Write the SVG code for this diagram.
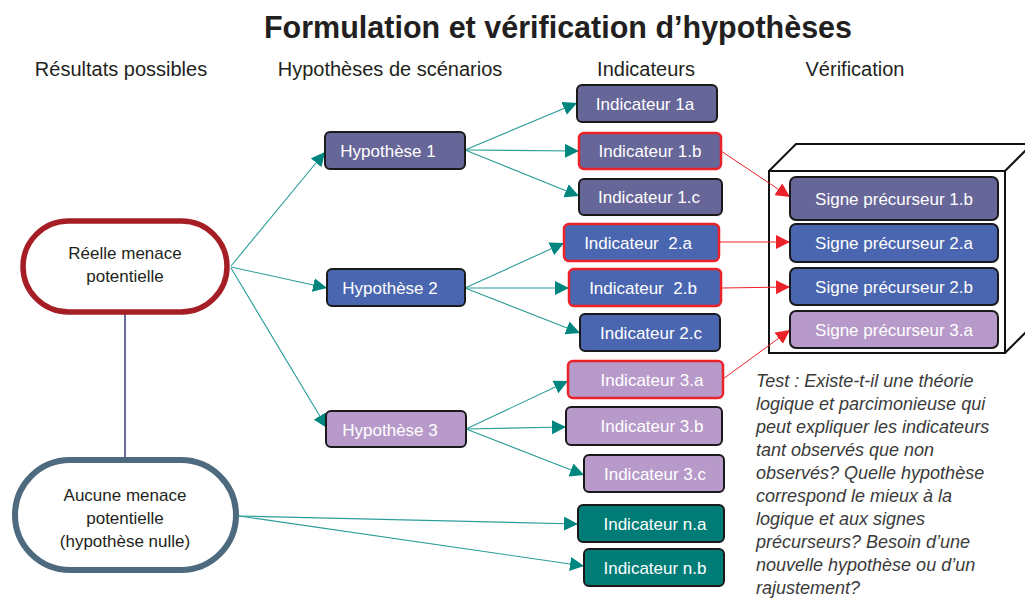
<svg xmlns="http://www.w3.org/2000/svg" width="1025" height="601" viewBox="0 0 1025 601">
<defs>
<marker id="ta" markerUnits="userSpaceOnUse" markerWidth="15" markerHeight="14" refX="14" refY="7" orient="auto"><path d="M0,0 L14,7 L0,14 z" fill="#00857f"/></marker>
<marker id="ra" markerUnits="userSpaceOnUse" markerWidth="15" markerHeight="14" refX="14" refY="7" orient="auto"><path d="M0,0 L14,7 L0,14 z" fill="#ec2229"/></marker>
<style>
text{font-family:"Liberation Sans",Arial,sans-serif}
.title{font-size:30.5px;font-weight:bold;fill:#231f20}
.hdr{font-size:20px;fill:#231f20}
.nt{font-size:17px;fill:#231f20;text-anchor:middle}
.bt{font-size:17px;fill:#ffffff;text-anchor:middle}
.box{stroke:#1a1a1a;stroke-width:2}
.red{stroke:#ec2229;stroke-width:2.5}
.p1{fill:#676698}.p2{fill:#4a66b0}.p3{fill:#b79ac9}.pn{fill:#007c77}
.tl{stroke:#2a9d99;stroke-width:1.1;fill:none;marker-end:url(#ta)}
.rl{stroke:#ec2229;stroke-width:1;fill:none;marker-end:url(#ra)}
.test{font-size:18px;font-style:italic;fill:#3a3a3a}
</style>
</defs>
<rect width="1025" height="601" fill="#ffffff"/>
<text class="title" x="558" y="38" text-anchor="middle">Formulation et vérification d’hypothèses</text>
<g id="headers">
<text class="hdr" x="121" y="76" text-anchor="middle">Résultats possibles</text>
<text class="hdr" x="390" y="76" text-anchor="middle">Hypothèses de scénarios</text>
<text class="hdr" x="646" y="76" text-anchor="middle">Indicateurs</text>
<text class="hdr" x="855" y="76" text-anchor="middle">Vérification</text>
</g>
<g id="verification-box" fill="none" stroke="#111" stroke-width="2">
<rect x="769" y="171" width="236" height="182" fill="#fff"/>
<path d="M769,171 L796,144 L1040,144 M1005,171 L1032,144 M1005,353 L1032,326"/>
</g>
<g id="connectors">
<line x1="125" y1="314" x2="125" y2="457" stroke="#6b6aa0" stroke-width="2"/>
<line class="tl" x1="231" y1="266" x2="325" y2="152"/>
<line class="tl" x1="231" y1="267" x2="327" y2="288"/>
<line class="tl" x1="231" y1="268" x2="327" y2="428"/>
<line class="tl" x1="465" y1="150" x2="577" y2="103"/>
<line class="tl" x1="465" y1="150" x2="579" y2="151"/>
<line class="tl" x1="465" y1="150" x2="579" y2="196"/>
<line class="tl" x1="465" y1="288" x2="564" y2="243"/>
<line class="tl" x1="465" y1="288" x2="569" y2="288"/>
<line class="tl" x1="465" y1="288" x2="580" y2="333"/>
<line class="tl" x1="466" y1="429" x2="568" y2="381"/>
<line class="tl" x1="466" y1="429" x2="566" y2="427"/>
<line class="tl" x1="466" y1="429" x2="584" y2="475"/>
<line class="tl" x1="239" y1="516" x2="578" y2="524"/>
<line class="tl" x1="239" y1="516" x2="584" y2="566"/>
<line class="rl" x1="721" y1="151" x2="790" y2="197"/>
<line class="rl" x1="719" y1="242" x2="790" y2="242"/>
<line class="rl" x1="721" y1="288" x2="790" y2="287"/>
<line class="rl" x1="723" y1="379" x2="790" y2="330"/>
</g>
<g id="reelle"><rect x="23" y="221" width="204" height="91" rx="45.5" fill="#fff" stroke="#a51e25" stroke-width="5.5"/><text class="nt" x="125" y="259">Réelle menace</text><text class="nt" x="125" y="282">potentielle</text></g>
<g id="aucune"><rect x="15" y="460" width="221" height="110" rx="55" fill="#fff" stroke="#4e6a7e" stroke-width="6"/><text class="nt" x="125" y="501">Aucune menace</text><text class="nt" x="125" y="524">potentielle</text><text class="nt" x="125" y="547">(hypothèse nulle)</text></g>
<g id="hyp1"><rect class="box p1" x="325" y="132" width="140" height="37" rx="5"/><text class="bt" x="388" y="157">Hypothèse 1</text></g>
<g id="hyp2"><rect class="box p2" x="327" y="269" width="138" height="37" rx="5"/><text class="bt" x="390" y="294">Hypothèse 2</text></g>
<g id="hyp3"><rect class="box p3" x="326" y="411" width="140" height="36" rx="5"/><text class="bt" x="390" y="436">Hypothèse 3</text></g>
<g id="ind1a"><rect class="box p1" x="577" y="85" width="140" height="37" rx="5"/><text class="bt" x="645" y="110">Indicateur 1a</text></g>
<g id="ind1b"><rect class="red p1" x="579" y="133" width="142" height="36" rx="5"/><text class="bt" x="650" y="157">Indicateur 1.b</text></g>
<g id="ind1c"><rect class="box p1" x="579" y="179" width="143" height="36" rx="5"/><text class="bt" x="649" y="203">Indicateur 1.c</text></g>
<g id="ind2a"><rect class="red p2" x="564" y="224" width="155" height="37" rx="5"/><text class="bt" x="638" y="249" xml:space="preserve">Indicateur  2.a</text></g>
<g id="ind2b"><rect class="red p2" x="569" y="269" width="152" height="37" rx="5"/><text class="bt" x="643" y="294" xml:space="preserve">Indicateur  2.b</text></g>
<g id="ind2c"><rect class="box p2" x="580" y="314" width="140" height="37" rx="5"/><text class="bt" x="651" y="339">Indicateur 2.c</text></g>
<g id="ind3a"><rect class="red p3" x="568" y="361" width="155" height="37" rx="5"/><text class="bt" x="652" y="386">Indicateur 3.a</text></g>
<g id="ind3b"><rect class="box p3" x="566" y="407" width="156" height="38" rx="5"/><text class="bt" x="652" y="432">Indicateur 3.b</text></g>
<g id="ind3c"><rect class="box p3" x="584" y="455" width="140" height="37" rx="5"/><text class="bt" x="655" y="480">Indicateur 3.c</text></g>
<g id="indna"><rect class="box pn" x="578" y="505" width="146" height="37" rx="5"/><text class="bt" x="655" y="530">Indicateur n.a</text></g>
<g id="indnb"><rect class="box pn" x="584" y="549" width="140" height="37" rx="5"/><text class="bt" x="655" y="574">Indicateur n.b</text></g>
<g id="s1b"><rect class="box p1" x="790" y="177" width="208" height="43" rx="6"/><text class="bt" x="894" y="205">Signe précurseur 1.b</text></g>
<g id="s2a"><rect class="box p2" x="790" y="224" width="208" height="38" rx="6"/><text class="bt" x="894" y="249">Signe précurseur 2.a</text></g>
<g id="s2b"><rect class="box p2" x="790" y="268" width="208" height="37" rx="6"/><text class="bt" x="894" y="293">Signe précurseur 2.b</text></g>
<g id="s3a"><rect class="box p3" x="790" y="311" width="208" height="37" rx="6"/><text class="bt" x="894" y="336">Signe précurseur 3.a</text></g>
<g id="test-text">
<text class="test" x="756" y="387">Test : Existe-t-il une théorie</text>
<text class="test" x="756" y="410">logique et parcimonieuse qui</text>
<text class="test" x="756" y="433">peut expliquer les indicateurs</text>
<text class="test" x="756" y="456">tant observés que non</text>
<text class="test" x="756" y="479">observés? Quelle hypothèse</text>
<text class="test" x="756" y="502">correspond le mieux à la</text>
<text class="test" x="756" y="525">logique et aux signes</text>
<text class="test" x="756" y="548">précurseurs? Besoin d’une</text>
<text class="test" x="756" y="571">nouvelle hypothèse ou d’un</text>
<text class="test" x="756" y="594">rajustement?</text>
</g>
</svg>
